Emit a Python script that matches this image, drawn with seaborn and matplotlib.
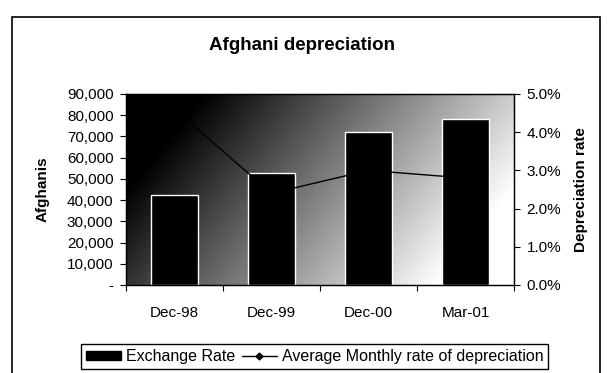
import numpy as np
import pandas as pd
import matplotlib
matplotlib.use("Agg")
import matplotlib.pyplot as plt
from matplotlib.patches import Rectangle, Patch
from matplotlib.lines import Line2D
from matplotlib.ticker import FuncFormatter, MultipleLocator
import seaborn as sns

# Afghani exchange rate (Afghanis per US$) and average monthly depreciation
periods = ["Dec-98", "Dec-99", "Dec-00", "Mar-01"]
exchange_rate = [42500, 53000, 72000, 78000]
monthly_depreciation = [0.046, 0.024, 0.030, 0.028]

sns.set_theme(style="ticks", rc={
    "axes.edgecolor": "black",
    "axes.labelcolor": "black",
    "text.color": "black",
    "xtick.color": "black",
    "ytick.color": "black",
})
plt.rcParams["font.family"] = ["Liberation Sans", "DejaVu Sans"]

df = pd.DataFrame({"period": periods, "rate": exchange_rate,
                   "dep": monthly_depreciation})

fig = plt.figure(figsize=(6.10, 3.73), dpi=100)
ax = fig.add_axes([0.2066, 0.236, 0.636, 0.512])

# diagonal gradient fill of the plot area: dark top-left, light bottom-right
xs = np.linspace(0, 1, 400)
ys = np.linspace(0, 1, 200)
X, Y = np.meshgrid(xs, ys)
shade = np.clip(1.0 * X + 0.4 * Y - 0.2, 0, 1)
ax.imshow(shade, cmap="gray", vmin=0, vmax=1, extent=(0, 1, 0, 1),
          transform=ax.transAxes, aspect="auto", origin="upper", zorder=0)

sns.barplot(data=df, x="period", y="rate", color="black", saturation=1,
            width=0.48, ax=ax, zorder=2)

ax2 = ax.twinx()
sns.pointplot(data=df, x="period", y="dep", color="black", markers="D",
              markersize=3.5, linewidth=1, errorbar=None, ax=ax2)

ax.set_xlim(-0.5, len(periods) - 0.5)
ax.set_ylim(0, 90000)
ax2.set_ylim(0, 0.05)

ax.yaxis.set_major_locator(MultipleLocator(10000))
ax.yaxis.set_major_formatter(FuncFormatter(
    lambda v, p: "-" if v == 0 else f"{v:,.0f}"))
ax2.yaxis.set_major_locator(MultipleLocator(0.01))
ax2.yaxis.set_major_formatter(FuncFormatter(lambda v, p: f"{v:.1%}"))

ax.set_xticks(range(len(periods)))
ax.set_xticklabels(periods)
ax.set_xticks(np.arange(-0.5, len(periods)), minor=True)
ax.tick_params(axis="x", which="major", length=0, pad=15, labelsize=11)
ax.tick_params(axis="x", which="minor", length=4, width=0.8, direction="out")
ax.tick_params(axis="y", length=4, width=0.8, pad=5, labelsize=11)
ax2.tick_params(axis="y", length=4, width=0.8, pad=5, labelsize=11)

for a in (ax, ax2):
    for s in a.spines.values():
        s.set_visible(True)
        s.set_color("black")
        s.set_linewidth(0.9)

ax.set_xlabel("")
ax.set_ylabel("Afghanis", fontsize=11, fontweight="bold")
ax.yaxis.set_label_coords(-0.196, 0.5)
ax2.set_ylabel("Depreciation rate", fontsize=11, fontweight="bold")
ax2.yaxis.set_label_coords(1.155, 0.5)

fig.text(0.495, 1 - 45 / 373, "Afghani depreciation", ha="center",
         va="center", fontsize=13.5, fontweight="bold")

handles = [Patch(facecolor="black", edgecolor="black"),
           Line2D([], [], color="black", marker="D", markersize=3.5, lw=1)]
fig.legend(handles, ["Exchange Rate", "Average Monthly rate of depreciation"],
           loc="center", bbox_to_anchor=(0.516, 0.044), ncol=2, frameon=True,
           fancybox=False, edgecolor="black", framealpha=1, fontsize=11.5,
           handlelength=2.2, handleheight=0.55, handletextpad=0.3,
           columnspacing=0.4, borderpad=0.3)

# outer chart border
fig.add_artist(Rectangle((12 / 610, -0.05), (600 - 12) / 610, 0.954 + 0.05,
                         transform=fig.transFigure, fill=False,
                         edgecolor="black", linewidth=1.2))

fig.savefig("out.png", dpi=100)
